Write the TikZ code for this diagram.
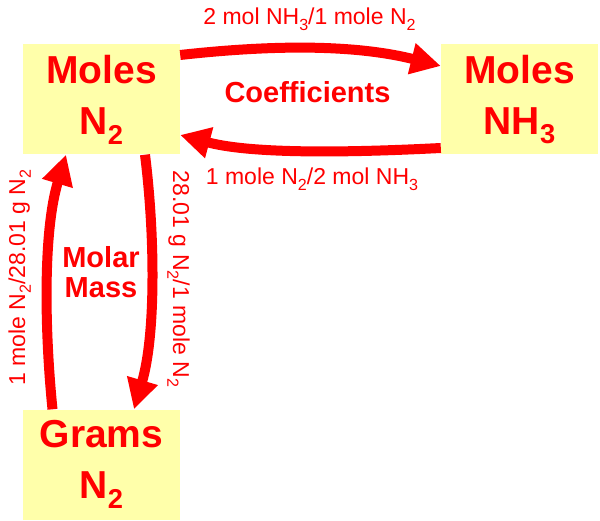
\documentclass[tikz,border=0pt]{standalone}
\usepackage{fontspec}
\setmainfont{Liberation Sans}
\usepackage{graphicx}
\usepackage{tikz}
\usetikzlibrary{arrows.meta}
\definecolor{boxyellow}{RGB}{255,255,170}
\newcommand{\chsub}[1]{\raisebox{-0.25em}{\scalebox{0.7}{#1}}}

\begin{document}
\begin{tikzpicture}[x=1pt,y=-1pt,node distance=418pt]
\tikzstyle{unitbox}=[fill=boxyellow,text=red,minimum width=157pt,minimum height=110pt,
    inner sep=0pt,align=center,font=\bfseries\fontsize{39}{51}\selectfont]
\tikzstyle{edgelabel}=[text=red,inner sep=0pt,font=\fontsize{23}{26}\selectfont]
\tikzstyle{grouplabel}=[text=red,inner sep=0pt,align=center,font=\bfseries\fontsize{29}{30}\selectfont]
\tikzstyle{convert}=[draw=red,line width=10pt,-{Triangle[length=30pt,width=30pt]}]
\useasboundingbox (0,0) rectangle (600,521);
\node [unitbox] (molN2) at (101.5,99.5) {Moles\\N\chsub{2}};
\node [unitbox,right of=molN2] (molNH3) {Moles\\NH\chsub{3}};
\node [unitbox,node distance=365pt,below of=molN2] (gN2) {Grams\\N\chsub{2}};
% coefficients
\draw [convert] ([yshift=44.5pt]molN2.east) .. controls +(90,-10) and +(-88,-22) .. ([yshift=33.5pt]molNH3.west);
\draw [convert] ([yshift=-48.5pt]molNH3.west) .. controls +(-79,4) and +(75,20) .. ([yshift=-35.5pt]molN2.east);
% molar mass
\draw [convert] ([xshift=-49pt]gN2.north) .. controls +(-8,-80) and +(-23,77) .. ([xshift=-35.5pt]molN2.south);
\draw [convert] ([xshift=43.5pt]molN2.south) .. controls +(10,80) and +(22,-75) .. ([xshift=32.5pt]gN2.north);
\node [edgelabel,anchor=base] (toNH3) at (309.5,25) {2 mol NH\chsub{3}/1 mole N\chsub{2}};
\node [edgelabel,anchor=base] (toN2) at (312,185) {1 mole N\chsub{2}/2 mol NH\chsub{3}};
\node [edgelabel,rotate=90,anchor=base] (toMol) at (25,277.5) {1 mole N\chsub{2}/28.01 g N\chsub{2}};
\node [edgelabel,rotate=-90,anchor=base] (toGrams) at (173,279) {28.01 g N\chsub{2}/1 mole N\chsub{2}};
\node [grouplabel,anchor=base] (coef) at (307.5,103) {Coefficients};
\node [grouplabel] (molar) at (101,272.5) {Molar\\Mass};
\end{tikzpicture}
\end{document}
